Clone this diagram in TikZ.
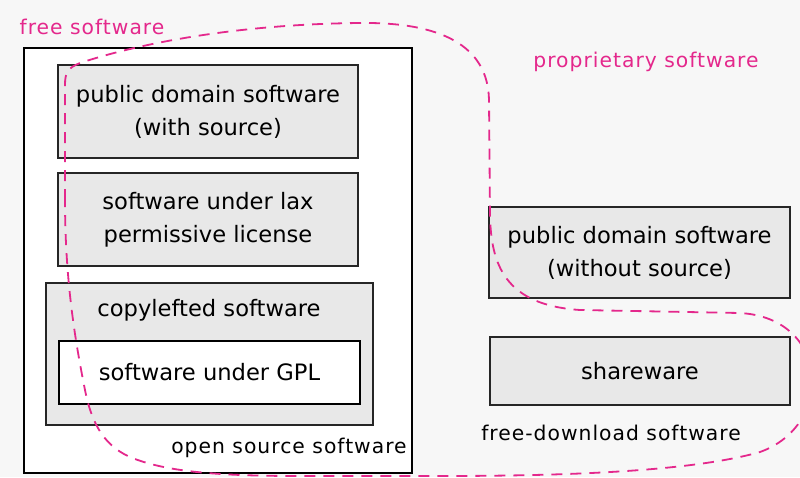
\documentclass[tikz,border=0pt]{standalone}
\usepackage{fontspec}
\setmainfont{DejaVu Sans}
\newfontfamily\lblfont[LetterSpace=5]{DejaVu Sans}
\definecolor{mag}{RGB}{228,40,140}
\definecolor{bgc}{RGB}{247,247,247}
\definecolor{boxfill}{RGB}{232,232,232}
\begin{document}
\begin{tikzpicture}[x=1pt,y=1pt,
  maintext/.style={font=\fontsize{22.6}{33}\selectfont, align=center, text=black},
  graybox/.style={maintext, draw=black!85, line width=1.5pt, fill=boxfill, inner sep=0pt},
  whitebox/.style={maintext, draw=black, line width=2pt, fill=white, inner sep=0pt},
  outerbox/.style={draw=black, line width=2pt, fill=white, inner sep=0pt},
  blacklabel/.style={font=\lblfont\fontsize{20.3}{24}\selectfont, text=black, inner sep=0pt},
  maglabel/.style={font=\lblfont\fontsize{20.3}{24}\selectfont, text=mag, inner sep=0pt},
  region/.style={draw=mag, line width=1.8pt, dash pattern=on 11pt off 8pt}
]
\useasboundingbox (0,0) rectangle (800,-477);
\fill[bgc] (0,0) rectangle (800,-477);

% open source software container
\node[outerbox, minimum width=388pt, minimum height=425pt] (oss) at (218,-260) {};
\node[graybox, minimum width=300pt, minimum height=93pt] (pdws) at (208,-111.5)
  {public domain software\\(with source)};
\node[graybox, minimum width=300pt, minimum height=93pt] (lax) at (208,-219.5)
  {software under lax\\permissive license};
\node[graybox, minimum width=327pt, minimum height=142pt] (copyleft) at (209.5,-354) {};
\node[maintext, inner sep=0pt] (cltext) at (209,-310) {copylefted software};
\node[whitebox, minimum width=301pt, minimum height=63pt] (gpl) at (209.5,-372.5)
  {software under GPL};
\node[blacklabel] (osslabel) at (289,-448) {open source software};

% right side
\node[graybox, minimum width=301pt, minimum height=91pt] (pdwo) at (639.5,-252.5)
  {public domain software\\(without source)};
\node[graybox, minimum width=300pt, minimum height=68pt] (share) at (640,-371)
  {shareware};
\node[blacklabel] (fdlabel) at (611,-433) {free-download software};

% region labels
\node[maglabel] (freelabel) at (92,-27) {free software};
\node[maglabel] (proplabel) at (646,-62) {proprietary software};

% free software region boundary
\begin{scope}
\clip (0,0) rectangle (800,-477);
\draw[region] (65,-200) -- (65,-85)
  .. controls (65,-72) and (68,-68) .. (80,-63)
  .. controls (150,-40) and (250,-24) .. (360,-23)
  .. controls (440,-22) and (488,-45) .. (489,-100)
  -- (490,-215)
  .. controls (491,-265) and (505,-305) .. (580,-310)
  -- (740,-313)
  .. controls (830,-318) and (835,-425) .. (760,-452)
  .. controls (690,-472) and (560,-476) .. (440,-476)
  -- (300,-476)
  .. controls (220,-476) and (170,-472) .. (135,-459)
  .. controls (105,-448) and (92,-425) .. (85,-390)
  .. controls (75,-340) and (65,-280) .. (65,-200) -- cycle;
\end{scope}
\end{tikzpicture}
\end{document}
